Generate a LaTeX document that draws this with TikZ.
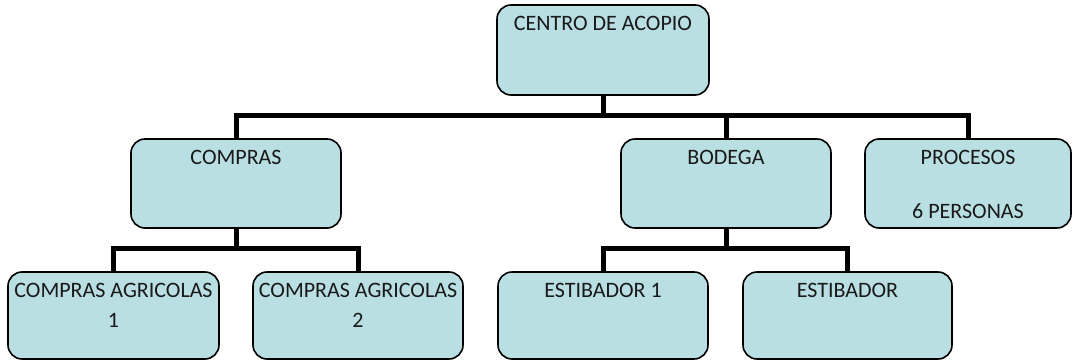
\documentclass[tikz,border=0pt]{standalone}
\usepackage{fontspec}
\setmainfont{Carlito}
\definecolor{boxfill}{RGB}{185,223,227}
\begin{document}
\begin{tikzpicture}[x=1pt,y=-1pt,
  box/.style={draw=black,line width=1.6pt,fill=boxfill,rounded corners=14pt,inner sep=0pt},
  txt/.style={anchor=base,inner sep=0pt,font=\fontsize{22}{28}\selectfont,text=black!90},
  conn/.style={line width=5pt,line join=miter}]
\useasboundingbox (0,0) rectangle (1073,363);
% boxes
\node[box,minimum width=212pt,minimum height=90pt] (centro) at (603,50) {};
\node[box,minimum width=210pt,minimum height=89pt] (compras) at (236,183.5) {};
\node[box,minimum width=210pt,minimum height=89pt] (bodega) at (726,183.5) {};
\node[box,minimum width=206pt,minimum height=89pt] (procesos) at (968,183.5) {};
\node[box,minimum width=211pt,minimum height=87pt] (ca1) at (113.5,315.5) {};
\node[box,minimum width=210pt,minimum height=87pt] (ca2) at (358,315.5) {};
\node[box,minimum width=210pt,minimum height=87pt] (e1) at (603,315.5) {};
\node[box,minimum width=209pt,minimum height=87pt] (e2) at (847.5,315.5) {};
% texts
\node[txt] (tcentro) at ([yshift=-26pt]centro.north) {CENTRO DE ACOPIO};
\node[txt] (tcompras) at ([yshift=-26pt]compras.north) {COMPRAS};
\node[txt] (tbodega) at ([yshift=-26pt]bodega.north) {BODEGA};
\node[txt] (tprocesos) at ([yshift=-26pt]procesos.north) {PROCESOS};
\node[txt] (tprocesosb) at ([yshift=-80pt]procesos.north) {6 PERSONAS};
\node[txt] (tca1) at ([yshift=-26pt]ca1.north) {COMPRAS AGRICOLAS};
\node[txt] (tca1b) at ([yshift=-56pt]ca1.north) {1};
\node[txt] (tca2) at ([yshift=-26pt]ca2.north) {COMPRAS AGRICOLAS};
\node[txt] (tca2b) at ([yshift=-56pt]ca2.north) {2};
\node[txt] (te1) at ([yshift=-26pt]e1.north) {ESTIBADOR 1};
\node[txt] (te2) at ([yshift=-26pt]e2.north) {ESTIBADOR};
% junctions
\coordinate (j0) at (603,116);
\coordinate (j1) at (236,249);
\coordinate (j2) at (726,249);
% connectors
\draw[conn] (centro.south) -- (j0);
\draw[conn] (compras.north) -- (compras.north |- j0) -- (procesos.north |- j0) -- (procesos.north);
\draw[conn] (bodega.north) -- (bodega.north |- j0);
\draw[conn] (compras.south) -- (j1);
\draw[conn] (ca1.north) -- (ca1.north |- j1) -- (ca2.north |- j1) -- (ca2.north);
\draw[conn] (bodega.south) -- (j2);
\draw[conn] (e1.north) -- (e1.north |- j2) -- (e2.north |- j2) -- (e2.north);
\end{tikzpicture}
\end{document}
